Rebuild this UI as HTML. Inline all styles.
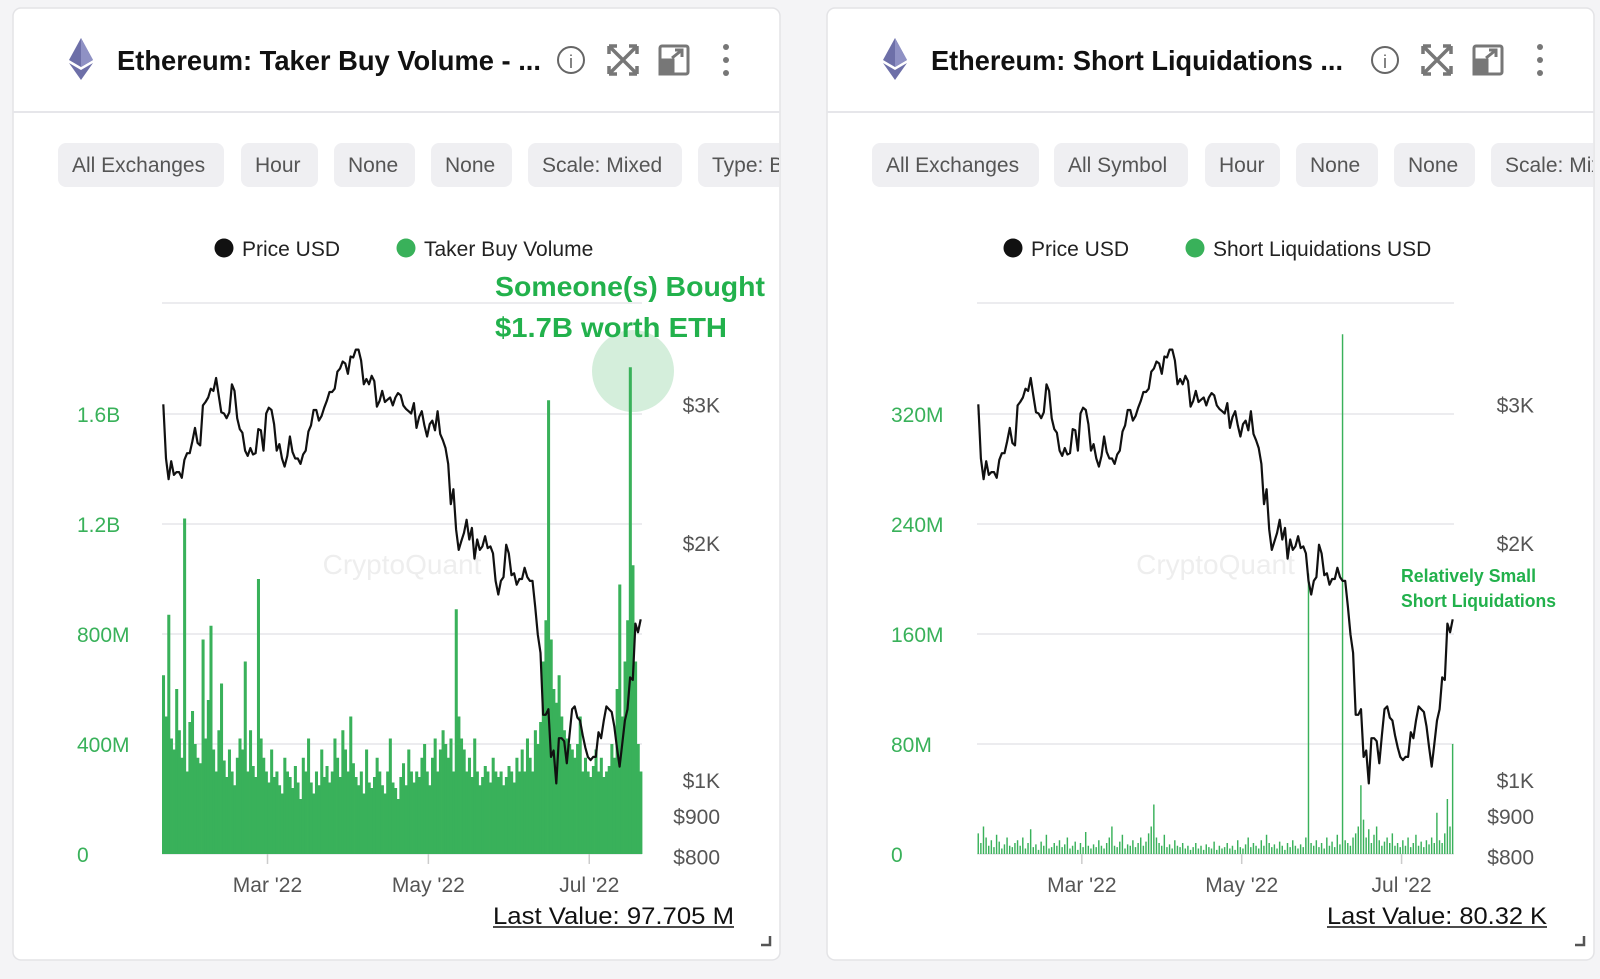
<!DOCTYPE html>
<html><head><meta charset="utf-8"><style>
html,body{margin:0;padding:0;background:#f4f4f6;}
svg{display:block;font-family:"Liberation Sans",sans-serif;}
</style></head><body>
<svg id="s" width="1600" height="979" viewBox="0 0 1600 979" xmlns="http://www.w3.org/2000/svg"></svg>
<script>
// ---- data ----
const xTickLabels = ["Mar '22","May '22","Jul '22"];
const xTickDays = [40, 101, 162];
const leftTicksVol = ["0","400M","800M","1.2B","1.6B"];
const leftTicksVolVals = [0,400,800,1200,1600];
const leftTicksLiq = ["0","80M","160M","240M","320M"];
const leftTicksLiqVals = [0,80,160,240,320];
const priceTickLabels = ["$800","$900","$1K","$2K","$3K"];
const priceTickVals = [800,900,1000,2000,3000];
const price = [3000,2560,2410,2540,2440,2460,2460,2420,2550,2600,2600,2690,
2800,2680,2660,2990,3020,3060,3140,3120,3240,3080,2930,2920,2880,2930,3180,3120,2880,2790,2760,2620,2580,2640,2590,2600,2790,2780,2620,2920,
2970,2950,2830,2620,2670,2560,2500,2580,2730,2610,2560,2560,2520,2590,2620,2770,2820,2950,2950,2860,2900,2970,3030,3110,3110,3140,3300,3330,3400,3380,3280,
3450,3440,3520,3520,3410,3180,3230,3180,3260,3210,2980,3030,3120,3020,3040,3060,2990,3060,3100,3080,2990,2960,2940,2920,3010,2800,2890,2940,2820,2730,
2830,2860,2780,2940,2750,2700,2640,2520,2240,2340,2080,1960,2010,2060,2140,2020,2090,1910,2020,1960,1980,2040,1970,1980,1940,1790,1720,1790,1810,1990,1940,
1820,1830,1770,1800,1800,1860,1810,1790,1790,1660,1530,1450,1210,1210,1230,1070,1090,990,1130,1130,1120,1050,1140,1230,1240,1200,1190,1140,1100,1070,
1060,1070,1070,1150,1130,1190,1240,1230,1220,1170,1100,1040,1110,1190,1230,1350,1340,1580,1540,1600];
const takerBuyVolume = [650,500,870,420,380,600,450,350,1220,300,480,520,400,350,330,780,
420,560,830,380,300,450,620,340,280,380,300,250,350,420,380,700,
300,450,320,280,1000,420,350,300,260,380,280,300,250,220,350,300,
280,240,320,260,200,350,300,420,260,220,300,250,380,280,320,260,
300,420,350,280,450,380,300,500,330,280,250,300,220,380,260,240,
280,350,300,250,220,300,420,260,240,200,280,330,250,380,300,260,
300,280,350,400,300,250,350,420,300,380,450,400,350,420,300,890,
500,420,380,300,350,280,420,300,250,280,320,300,260,350,300,280,
300,250,280,320,300,260,350,300,380,300,420,350,300,450,400,480,
700,850,1650,780,600,550,650,500,450,420,400,380,350,400,500,300,
350,300,280,320,380,300,350,280,300,320,400,350,600,980,500,700,850,1770,1050,700,400,300];
const shortLiq = [15,8,20,12,6,10,5,14,9,4,7,12,6,5,8,10,
6,12,4,8,18,5,7,3,9,6,14,4,5,8,6,10,
5,7,12,4,6,9,3,8,5,16,6,4,7,5,10,6,
4,8,12,20,6,5,9,14,4,7,6,10,5,8,12,6,
9,15,20,36,12,8,6,14,5,7,4,10,6,5,8,4,
6,3,5,8,4,6,3,7,5,4,9,3,6,4,5,8,
4,6,3,10,5,4,7,12,5,8,6,4,10,6,14,8,
5,7,4,9,6,3,8,5,10,6,4,7,5,12,204,8,
6,10,5,8,4,12,6,9,5,14,7,378,10,8,6,12,
15,20,50,25,12,18,8,14,20,10,6,9,12,8,15,6,
8,5,10,6,12,5,8,14,6,9,5,10,7,12,8,30,10,8,15,40,20,80];

const NS="http://www.w3.org/2000/svg";
const svg=document.getElementById('s');
function mk(tag,attrs,parent,txt){const e=document.createElementNS(NS,tag);for(const k in attrs)e.setAttribute(k,attrs[k]);if(txt!==undefined)e.textContent=txt;(parent||svg).appendChild(e);return e;}

const GREEN="#39b15a";
const Y0=854;
function panel(o){
  const g=mk('g',{});
  
  
  const card=mk('rect',{x:o.cx,y:8,width:o.cw,height:952,rx:8,fill:'#fff',stroke:'#e3e3e6','stroke-width':1.5},g);
  
  const hl=mk('line',{x1:o.cx,x2:o.cx+o.cw,y1:112,y2:112,stroke:'#e6e6ea','stroke-width':2},g);
  
  const ic=mk('g',{transform:`translate(${o.cx+56},38)`},g);
  
  mk('polygon',{points:'12,0 0,22 12,29 24,22',fill:'#6d6fa8'},ic);
  mk('polygon',{points:'12,0 12,29 24,22',fill:'#8f91c4'},ic);
  mk('polygon',{points:'0,25 12,42 24,25 12,32',fill:'#6d6fa8'},ic);
  const t=mk('text',{x:o.cx+104,y:70,'font-size':28,'font-weight':'bold',fill:'#111',textLength:o.titleLen,lengthAdjust:'spacingAndGlyphs'},g,o.title);
  
  const ix=o.iconX;
  const info=mk('g',{},g);
  mk('circle',{cx:ix,cy:60,r:13,fill:'none',stroke:'#666','stroke-width':2},info);
  mk('text',{x:ix,y:68,'font-size':18,'text-anchor':'middle',fill:'#666'},info,'i');
  const ex=mk('g',{stroke:'#777','stroke-width':3.5,fill:'none'},g);
  const ex0=ix+52;
  mk('path',{d:`M${ex0-14} ${46}L${ex0+14} ${74}M${ex0+14} ${46}L${ex0-14} ${74}M${ex0-14} ${46}h8M${ex0-14} 46v8M${ex0+14} 46h-8M${ex0+14} 46v8M${ex0-14} 74h8M${ex0-14} 74v-8M${ex0+14} 74h-8M${ex0+14} 74v-8`},ex);
  const po=mk('g',{stroke:'#777','stroke-width':3,fill:'none'},g);
  const p0=ix+103;
  mk('rect',{x:p0-14,y:46,width:28,height:28,rx:2},po);
  mk('rect',{x:p0-14,y:60,width:13,height:14,fill:'#777'},po);
  mk('path',{d:`M${p0-2} 58L${p0+8} 50M${p0+1} 50h7v7`},po);
  const dm=mk('g',{fill:'#777'},g);
  [47,60,73].forEach(y=>mk('circle',{cx:ix+155,cy:y,r:3},dm));
  const clip='clip'+o.cx;
  const cp=mk('clipPath',{id:clip},g);mk('rect',{x:o.cx,y:130,width:o.cw-1,height:70},cp);
  const cg=mk('g',{'clip-path':`url(#${clip})`},g);
  o.chips.forEach(c=>{
    const cgp=mk('g',{},cg);
    
    mk('rect',{x:c[1],y:143,width:c[2]-c[1],height:44,rx:8,fill:'#efeff2'},cgp);
    mk('text',{x:c[1]+14,y:172,'font-size':21,fill:'#555'},cgp,c[0]);
  });
  o.legend.forEach(l=>{
    const lg=mk('g',{},g);
    mk('circle',{cx:l[1],cy:248,r:9.5,fill:l[2]},lg);
    mk('text',{x:l[1]+18,y:256,'font-size':21,fill:'#222'},lg,l[0]);
  });
  const px0=o.px0,px1=o.px1,nd=price.length;
  const xs=d=>px0+(px1-px0)*d/nd;
  const yv=v=>Y0-v/o.step*110;
  const yp=p=>780-Math.log(p/1000)*342;
  const gg=mk('g',{},g);
  o.ticks.forEach(v=>mk('line',{x1:px0,x2:px1,y1:yv(v),y2:yv(v),stroke:'#e6e6ea','stroke-width':1.5},gg));
  mk('line',{x1:px0,x2:px1,y1:303,y2:303,stroke:'#e6e6ea','stroke-width':1.5},gg);
  const wm=mk('text',{x:(px0+px1)/2,y:574,'font-size':28,fill:'#eeeeee','text-anchor':'middle'},g,'CryptoQuant');
  
  const bg=mk('g',{fill:GREEN},g);
  const bw=(px1-px0)/nd;
  o.values.forEach((v,i)=>{
    const w=o.thin?Math.max(1.2,bw*0.55):bw+0.4;
    const r=mk('rect',{x:xs(i)+(o.thin?bw*0.2:0),y:yv(v),width:w,height:Y0-yv(v)},bg);
    
    
  });
  let d='';price.forEach((p,i)=>{d+=(i?'L':'M')+(xs(i)+bw/2).toFixed(1)+' '+yp(p).toFixed(1);});
  const pl=mk('path',{d:d,fill:'none',stroke:'#111','stroke-width':2.2,'stroke-linejoin':'round'},g);
  
  o.tickLabels.forEach((s,i)=>{const t=mk('text',{x:o.lx,y:yv(o.ticks[i])+8,'font-size':21,fill:GREEN},g,s);
    });
  priceTickLabels.forEach((s,i)=>{const t=mk('text',{x:o.rx,y:yp(priceTickVals[i])+8,'font-size':21,fill:'#555','text-anchor':'end'},g,s);
    });
  xTickLabels.forEach((s,i)=>{const x=xs(xTickDays[i]);
    mk('line',{x1:x,x2:x,y1:Y0,y2:Y0+10,stroke:'#ccc','stroke-width':1.5},g);
    const t=mk('text',{x:x,y:892,'font-size':21,fill:'#555','text-anchor':'middle'},g,s);
    });
  const lv=mk('text',{x:o.lvx,y:924,'font-size':24,fill:'#111',textLength:o.lvLen,lengthAdjust:'spacingAndGlyphs'},g,o.lastValue);
  
  mk('line',{x1:o.lvx,x2:o.lvx+o.lvLen,y1:927,y2:927,stroke:'#111','stroke-width':1.5},g);
  const rz=mk('path',{d:`M${o.cx+o.cw-10} 936v9h-9`,stroke:'#555','stroke-width':2.5,fill:'none'},g);
  
  return g;
}
panel({name:'taker-buy-volume-panel',cx:13,cw:767,title:'Ethereum: Taker Buy Volume - ...',titleLen:424,iconX:571,
  chips:[['All Exchanges',58,224],['Hour',241,318],['None',334,415],['None',431,512],['Scale: Mixed',528,682],['Type: B',698,800]],
  legend:[['Price USD',224,'#111'],['Taker Buy Volume',406,GREEN]],
  px0:162,px1:642,step:400,ticks:leftTicksVolVals,tickLabels:leftTicksVol,lx:77,rx:720,values:takerBuyVolume,thin:false,
  lastValue:'Last Value: 97.705 M',lvx:493,lvLen:241});
panel({name:'short-liquidations-panel',cx:827,cw:767,title:'Ethereum: Short Liquidations ...',titleLen:412,iconX:1385,
  chips:[['All Exchanges',872,1039],['All Symbol',1054,1188],['Hour',1205,1280],['None',1296,1378],['None',1394,1475],['Scale: Mixed',1491,1650]],
  legend:[['Price USD',1013,'#111'],['Short Liquidations USD',1195,GREEN]],
  px0:977,px1:1454,step:80,ticks:leftTicksLiqVals,tickLabels:leftTicksLiq,lx:891,rx:1534,values:shortLiq,thin:true,
  lastValue:'Last Value: 80.32 K',lvx:1327,lvLen:220});
const c=mk('circle',{cx:633,cy:371,r:41,fill:'#39b15a','fill-opacity':0.22});

const a1=mk('text',{x:495,y:296,'font-size':28,'font-weight':'bold',fill:'#22b14c',textLength:270,lengthAdjust:'spacingAndGlyphs'},svg,'Someone(s) Bought');

const a2=mk('text',{x:495,y:337,'font-size':28,'font-weight':'bold',fill:'#22b14c',textLength:232,lengthAdjust:'spacingAndGlyphs'},svg,'$1.7B worth ETH');

const a3=mk('text',{x:1401,y:582,'font-size':18,'font-weight':'bold',fill:'#22b14c',textLength:135,lengthAdjust:'spacingAndGlyphs'},svg,'Relatively Small');

const a4=mk('text',{x:1401,y:607,'font-size':18,'font-weight':'bold',fill:'#22b14c',textLength:155,lengthAdjust:'spacingAndGlyphs'},svg,'Short Liquidations');

</script>
</body></html>
